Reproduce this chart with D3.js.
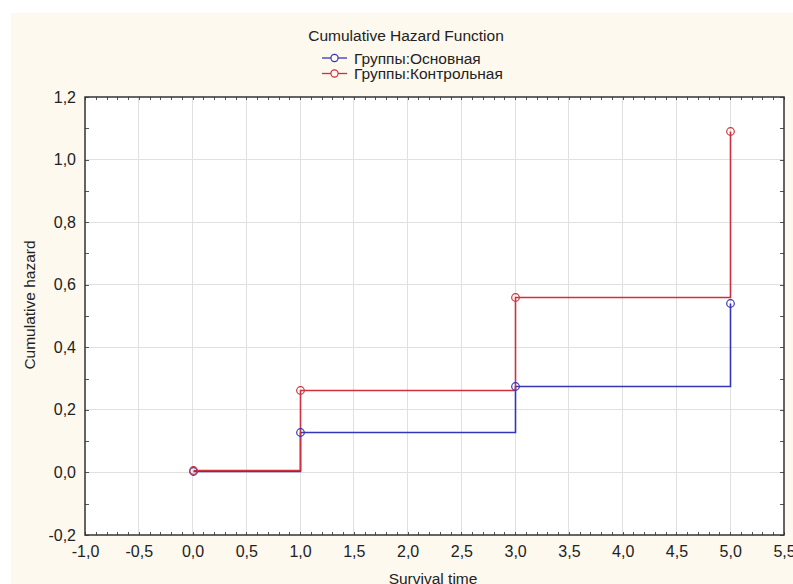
<!DOCTYPE html>
<html><head><meta charset="utf-8">
<script src="https://cdn.jsdelivr.net/npm/d3@7"></script>
<style>body{margin:0;background:#fff}svg{display:block}text{font-family:Arial,"Liberation Sans",sans-serif}</style>
</head><body><svg id="c" width="793" height="584"></svg>
<script>
const title = "Cumulative Hazard Function";
const seriesNames = ["Группы:Основная", "Группы:Контрольная"];
const seriesColors = ["#3535b8", "#d0303e"];
const times = [0, 1, 3, 5];
const mainValues = [0.004, 0.130, 0.277, 0.542];
const controlValues = [0.009, 0.265, 0.561, 1.090];
const xTicks = [-1.0, -0.5, 0.0, 0.5, 1.0, 1.5, 2.0, 2.5, 3.0, 3.5, 4.0, 4.5, 5.0, 5.5];
const yTicks = [-0.2, 0.0, 0.2, 0.4, 0.6, 0.8, 1.0, 1.2];
const xLabel = "Survival time";
const yLabel = "Cumulative hazard";

const FONT = "Arial,'Liberation Sans',sans-serif";
const svg = d3.select("#c");
svg.append("rect").attr("x", 11).attr("y", 13).attr("width", 782).attr("height", 571).attr("fill", "#fdf9ef");

const L = 85, R = 784, T = 97, B = 535;
const x = d3.scaleLinear().domain([-1, 5.5]).range([L, R]);
const y = d3.scaleLinear().domain([-0.2, 1.2]).range([B, T]);
const fmt = d => d3.format(".1f")(d).replace(".", ",").replace("−", "-");

svg.append("rect").attr("x", L).attr("y", T).attr("width", R - L).attr("height", B - T).attr("fill", "#fff");

// grid
const g = svg.append("g").attr("shape-rendering", "crispEdges");
g.selectAll(".gx").data(xTicks.slice(1, -1)).join("line")
  .attr("x1", d => x(d)).attr("x2", d => x(d)).attr("y1", T).attr("y2", B)
  .attr("stroke", "#e0e0e0").attr("stroke-width", 1);
g.selectAll(".gy").data(yTicks.slice(1, -1)).join("line")
  .attr("y1", d => y(d)).attr("y2", d => y(d)).attr("x1", L).attr("x2", R)
  .attr("stroke", "#e0e0e0").attr("stroke-width", 1);

// minor ticks via axes
const xMinor = d3.range(-10, 56).map(i => i / 10);
const yMinor = d3.range(-2, 13).map(i => i / 10);
const axStyle = sel => { sel.select(".domain").remove(); sel.selectAll("line").attr("stroke", "#555").attr("shape-rendering", "crispEdges"); sel.selectAll("text").remove(); };
svg.append("g").attr("transform", `translate(0,${B})`).call(d3.axisTop(x).tickValues(xMinor).tickSize(3)).call(axStyle);
svg.append("g").attr("transform", `translate(0,${T})`).call(d3.axisBottom(x).tickValues(xMinor).tickSize(3)).call(axStyle);
svg.append("g").attr("transform", `translate(${L},0)`).call(d3.axisRight(y).tickValues(yMinor).tickSize(4)).call(axStyle);
svg.append("g").attr("transform", `translate(${R},0)`).call(d3.axisLeft(y).tickValues(yMinor).tickSize(4)).call(axStyle);

// labeled axes
const xa = svg.append("g").attr("transform", `translate(0,${B})`)
  .call(d3.axisBottom(x).tickValues(xTicks).tickFormat(fmt).tickSize(0).tickPadding(11));
xa.select(".domain").remove();
xa.selectAll("text").attr("font-size", 16).attr("fill", "#222").attr("font-family", FONT);
const ya = svg.append("g").attr("transform", `translate(${L},0)`)
  .call(d3.axisLeft(y).tickValues(yTicks).tickFormat(fmt).tickSize(0).tickPadding(9));
ya.select(".domain").remove();
ya.selectAll("text").attr("font-size", 16).attr("fill", "#222").attr("font-family", FONT);

// frame
svg.append("rect").attr("x", L).attr("y", T).attr("width", R - L).attr("height", B - T)
  .attr("fill", "none").attr("stroke", "#333").attr("stroke-width", 1.5);

// series
const series = [mainValues, controlValues];
const snap = v => Math.round(v) + 0.5;
series.forEach((vals, si) => {
  const pts = times.map((t, i) => [t, vals[i]]);
  const line = d3.line().x(d => snap(x(d[0]))).y(d => snap(y(d[1]))).curve(d3.curveStepAfter);
  svg.append("path").attr("d", line(pts)).attr("fill", "none")
    .attr("stroke", seriesColors[si]).attr("stroke-width", 1.6);
});
series.forEach((vals, si) => {
  svg.append("g").selectAll("circle").data(times.map((t, i) => [t, vals[i]])).join("circle")
    .attr("cx", d => snap(x(d[0]))).attr("cy", d => snap(y(d[1]))).attr("r", 3.8)
    .attr("fill", "none").attr("stroke", seriesColors[si]).attr("stroke-width", 1.2);
});

// title
svg.append("text").attr("x", 406).attr("y", 41).attr("text-anchor", "middle")
  .attr("font-size", 15.5).attr("fill", "#222").text(title);

// legend
seriesNames.forEach((n, i) => {
  const ly = 58 + i * 15.5;
  svg.append("line").attr("x1", 322).attr("x2", 347).attr("y1", ly).attr("y2", ly)
    .attr("stroke", seriesColors[i]).attr("stroke-width", 1.3);
  svg.append("circle").attr("cx", 334.5).attr("cy", ly).attr("r", 3.6)
    .attr("fill", "#fdf9ef").attr("stroke", seriesColors[i]).attr("stroke-width", 1.2);
  svg.append("text").attr("x", 354).attr("y", ly + 5.5).attr("font-size", 15.5).attr("fill", "#222").text(n);
});

// axis labels
svg.append("text").attr("x", 433).attr("y", 584).attr("text-anchor", "middle")
  .attr("font-size", 15.5).attr("fill", "#222").text(xLabel);
svg.append("text").attr("transform", "translate(35,305) rotate(-90)").attr("text-anchor", "middle")
  .attr("font-size", 15.5).attr("fill", "#222").text(yLabel);
</script></body></html>
